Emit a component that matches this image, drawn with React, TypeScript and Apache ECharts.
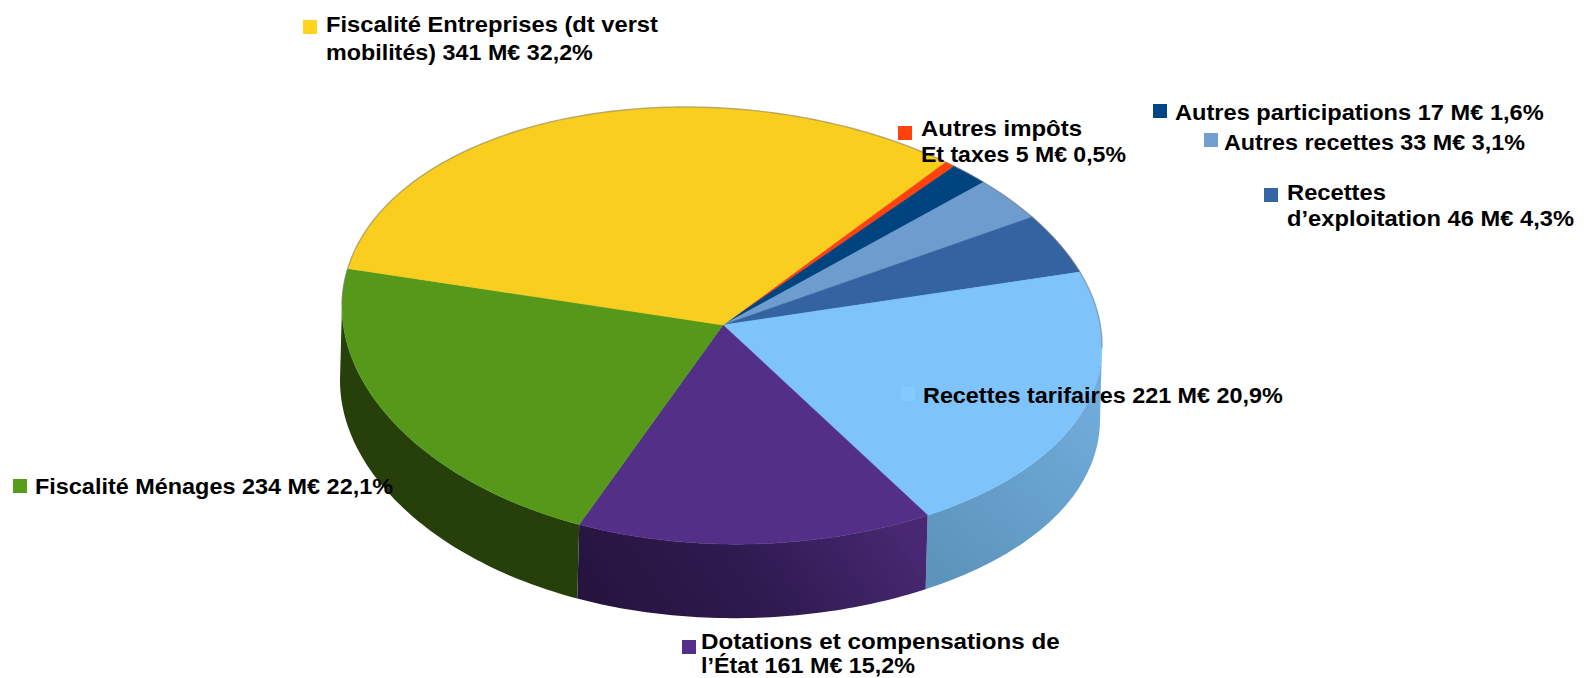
import React, { useEffect, useRef } from "react";
import * as echarts from "echarts";

// Slices, clockwise from the start angle
const categories = ["Autres impôts Et taxes", "Autres participations", "Autres recettes", "Recettes d’exploitation", "Recettes tarifaires", "Dotations et compensations de l’État", "Fiscalité Ménages", "Fiscalité Entreprises (dt verst mobilités)"];
const amounts = [5, 17, 33, 46, 221, 161, 234, 341];
const labelLines = [
  ["Autres impôts", "Et taxes 5 M€ 0,5%"],
  ["Autres participations 17 M€ 1,6%"],
  ["Autres recettes 33 M€ 3,1%"],
  ["Recettes", "d’exploitation 46 M€ 4,3%"],
  ["Recettes tarifaires 221 M€ 20,9%"],
  ["Dotations et compensations de", "l’État 161 M€ 15,2%"],
  ["Fiscalité Ménages 234 M€ 22,1%"],
  ["Fiscalité Entreprises (dt verst", "mobilités) 341 M€ 32,2%"],
];

// Styling
const topColors = ["#FF420E", "#00447F", "#6F9CCE", "#3363A0", "#7EC3FA", "#532F87", "#56981A", "#F9CE1E"];
const markerColors = ["#FF420E", "#004586", "#729FCF", "#3465A4", "#83CAFF", "#532E8B", "#579D1C", "#FFD320"];
const wallStops: string[][] = [
  ["#B03008", "#B03008"], ["#00305A", "#00305A"], ["#4F7092", "#4F7092"], ["#244670", "#244670"],
  ["#5C94BB", "#72AEDF"], ["#26143F", "#482873"], ["#263F0A", "#27410A"], ["#A88B14", "#A88B14"],
];
// label layout: marker x, marker y, text x, first line centre y, line gap
const labelLayout = [
  [898, 126, 921, 128, 27],
  [1153, 104, 1175, 112, 0],
  [1204, 133, 1224, 142.5, 0],
  [1264, 188, 1287, 192, 26],
  [901, 387, 923, 395, 0],
  [682, 640, 701, 641, 24],
  [13, 479, 35, 486, 0],
  [303, 20, 326, 24.5, 27.5],
];
const lineWidths = [[161, 205], [369], [301], [99, 287], [360], [359, 214], [358], [332, 267]];

// Tilted-pie geometry
const CX = 722, CY = 326, RX = 380, RY = 218, SHEAR = 21, DEPTH = 74, DRIFT = -2;
const START = 36, FRONT_SAG = 13, FRONT_TURN = 1.85;
const FONT = 'bold 22px "Liberation Sans"';

const total = amounts.reduce((a, b) => a + b, 0);
const starts: number[] = [];
amounts.reduce((acc, v, i) => { starts[i] = acc; return acc + v; }, 0);

const rimPoint = (deg: number, drop = 0) => {
  const d = ((deg % 360) + 360) % 360;
  const turn = d > 70 && d < 280 ? FRONT_TURN * Math.sin((((d - 70) / 210) * 180 * Math.PI) / 180) : 0;
  const t = ((deg + turn) * Math.PI) / 180;
  const s = Math.sin(t), c = Math.cos(t);
  const sag = -FRONT_SAG * s * Math.pow((1 - c) / 2, 3);
  return [CX + RX * s + (drop ? DRIFT : 0), CY - RY * c + SHEAR * s + sag + drop];
};
const arc = (a: number, b: number, drop = 0) => {
  const pts: number[][] = [];
  const n = Math.max(1, Math.ceil(Math.abs(b - a)));
  for (let i = 0; i <= n; i++) pts.push(rimPoint(a + ((b - a) * i) / n, drop));
  return pts;
};
const span = (api: any) => {
  const a = START + (api.value(2) / total) * 360;
  return [a, a + (api.value(1) / total) * 360];
};

const rimStyle = { fill: "none", stroke: "rgba(120,120,120,0.5)", lineWidth: 1.4 };

const renderTop = (params: any, api: any) => {
  const [a, b] = span(api);
  const color = topColors[params.dataIndex];
  const children: any[] = [{
    type: "polygon",
    shape: { points: [[CX + 1, CY - 1], ...arc(a, b)] },
    style: { fill: color, stroke: color, lineWidth: 0.6 },
  }];
  const backB = Math.min(b, 90);
  if (backB > a) children.push({ type: "polyline", shape: { points: arc(a, backB) }, style: rimStyle });
  const backC = Math.max(a, 270);
  if (b > backC) children.push({ type: "polyline", shape: { points: arc(backC, b) }, style: rimStyle });
  return { type: "group", children };
};

const renderWall = (params: any, api: any) => {
  const [a, b] = span(api);
  const from = Math.max(a, 90), to = Math.min(b, 270);
  if (to <= from) return { type: "group", children: [] };
  const [c0, c1] = wallStops[params.dataIndex];
  const points = [...arc(from, to), ...arc(to, from, DEPTH)];
  const horizontal = params.dataIndex === 5;
  return {
    type: "polygon",
    shape: { points },
    style: {
      fill: horizontal
        ? new echarts.graphic.LinearGradient(0, 0.6, 1, 0.4, [{ offset: 0, color: c0 }, { offset: 0.45, color: "#2E1A4E" }, { offset: 1, color: c1 }])
        : new echarts.graphic.LinearGradient(0.2, 1, 0.8, 0, [{ offset: 0, color: c0 }, { offset: 1, color: c1 }]),
    },
  };
};

const measure = (text: string) => {
  const ctx = document.createElement("canvas").getContext("2d")!;
  ctx.font = FONT;
  return ctx.measureText(text).width;
};

const buildLabels = () => {
  const out: any[] = [];
  labelLines.forEach((lines, i) => {
    const [mx, my, tx, ty, gap] = labelLayout[i];
    out.push({ type: "rect", z: 100, shape: { x: mx, y: my, width: 14, height: 14 }, style: { fill: markerColors[i] } });
    lines.forEach((line, j) => {
      out.push({
        type: "text", z: 101, x: tx, y: ty + j * gap, scaleX: lineWidths[i][j] / measure(line),
        style: { text: line, font: FONT, fill: "#000", textAlign: "left", textVerticalAlign: "middle", verticalAlign: "middle" },
      });
    });
  });
  return out;
};

export default function App() {
  const ref = useRef<HTMLDivElement>(null);
  useEffect(() => {
    const chart = echarts.init(ref.current!, undefined, { renderer: "svg" });
    const data = amounts.map((v, i) => ({ name: categories[i], value: [i, v, starts[i]] }));
    chart.setOption({
      animation: false,
      backgroundColor: "#fff",
      series: [
        { type: "custom", coordinateSystem: "none", renderItem: renderWall, data, silent: true, z: 1 },
        { type: "custom", coordinateSystem: "none", renderItem: renderTop, data, silent: true, z: 2 },
      ],
      graphic: { elements: buildLabels() },
    });
    return () => chart.dispose();
  }, []);
  return <div ref={ref} style={{ position: "absolute", left: 0, top: 0, width: 1584, height: 678 }} />;
}
